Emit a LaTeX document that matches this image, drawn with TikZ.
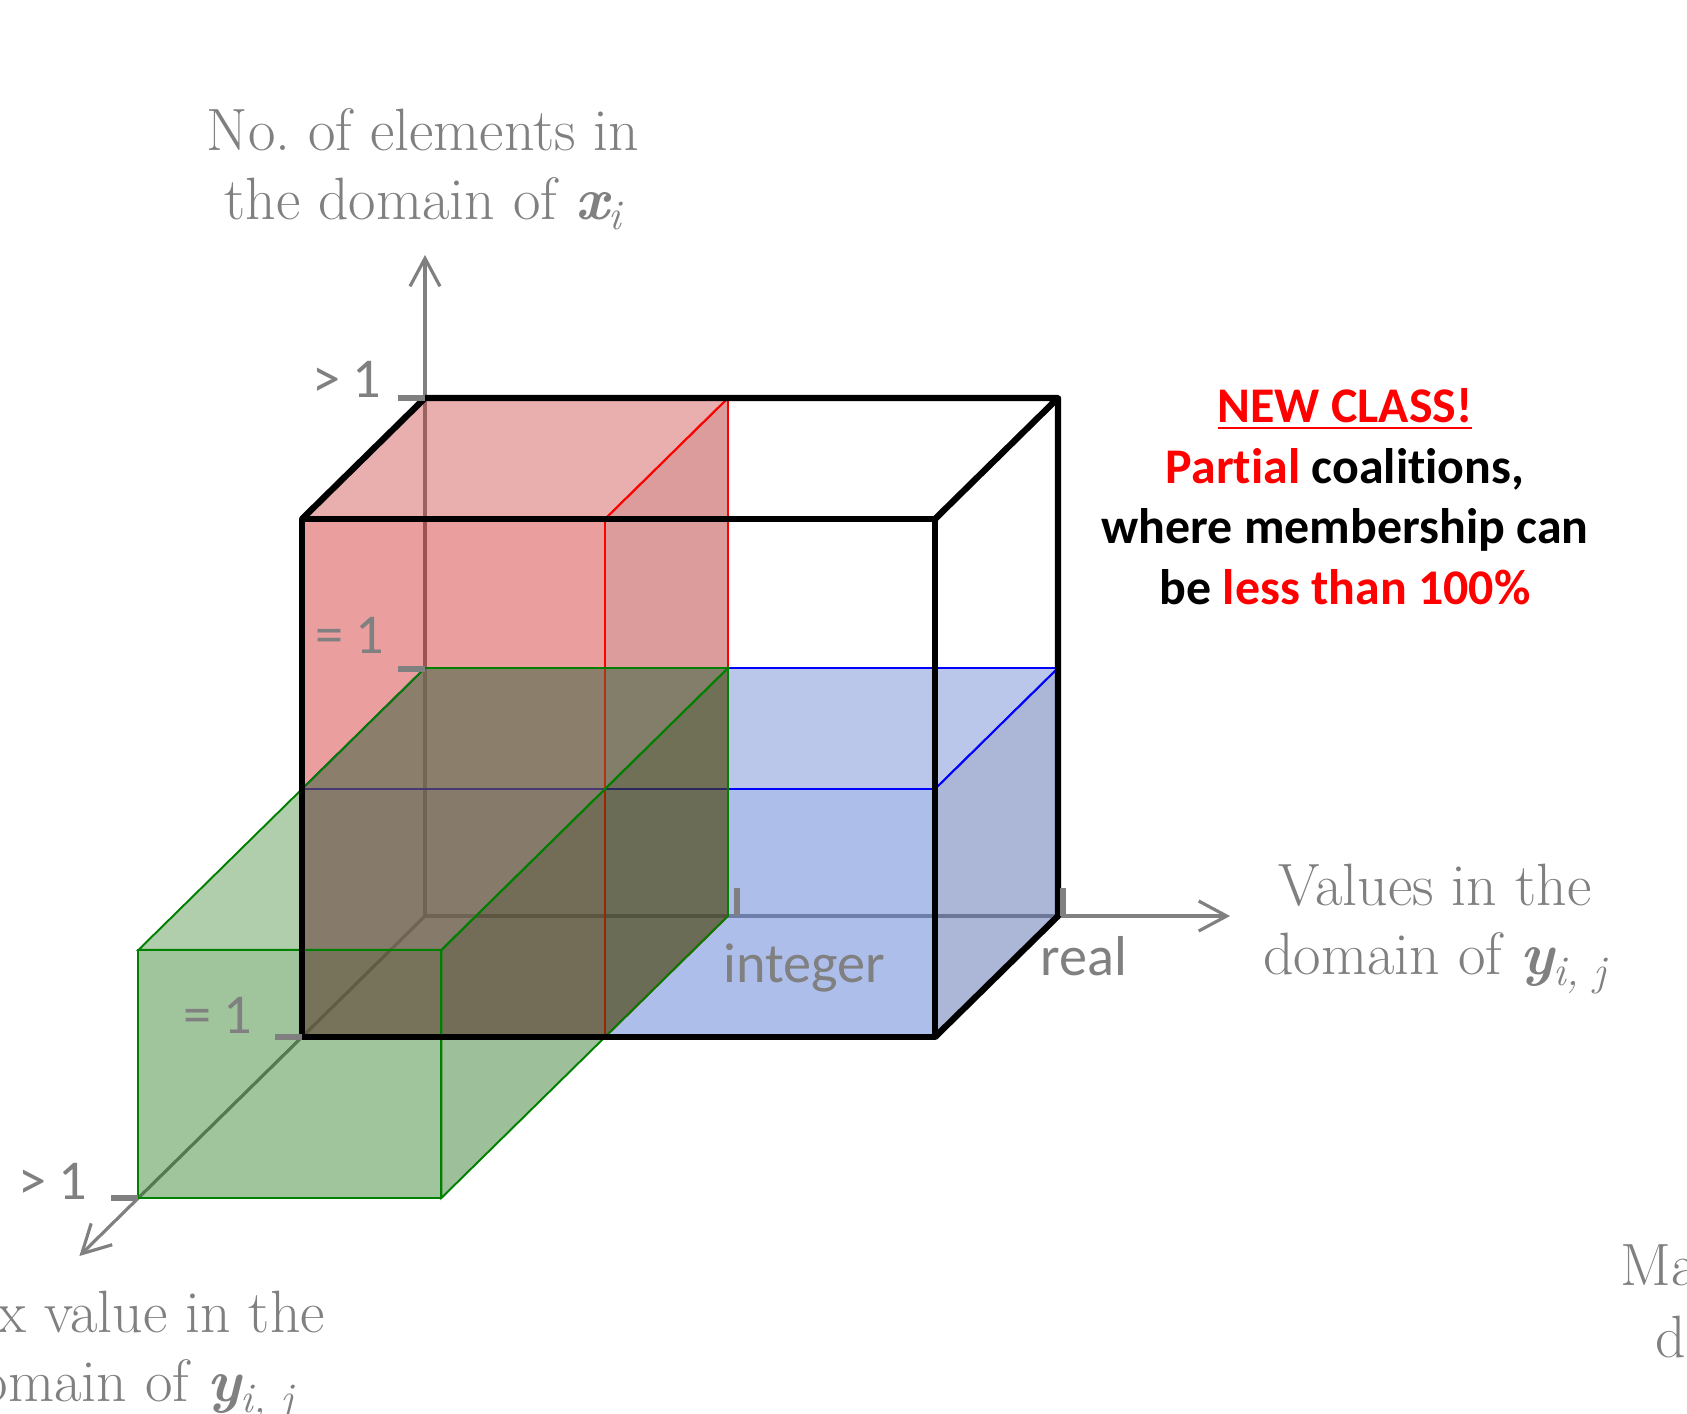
\documentclass[tikz,border=0pt]{standalone}
\usepackage{fontspec}
\newfontfamily\calibri{Carlito}[Ligatures=NoCommon]
\usepackage{xcolor}
\usepackage{tikz}
\usetikzlibrary{arrows.meta}
\frenchspacing
\definecolor{redfront}{RGB}{203,13,13}
\definecolor{redtop}{RGB}{200,53,53}
\definecolor{redside}{RGB}{168,8,8}
\definecolor{bluefront}{RGB}{93,125,215}
\definecolor{bluetop}{RGB}{117,143,215}
\definecolor{blueside}{RGB}{89,111,175}
\definecolor{greenfront}{RGB}{18,110,8}
\definecolor{greentop}{RGB}{58,130,48}
\definecolor{greenside}{RGB}{10,95,0}
\definecolor{greenedge}{RGB}{0,128,0}

\begin{document}
\begin{tikzpicture}[
  z={(-1.23cm,-1.21cm)},
  axis/.style={gray,line width=0.9pt,-{Straight Barb[length=2.8mm,width=3mm]}},
  tickmark/.style={gray,line width=1.5pt},
  axislabel/.style={gray,align=center,font=\fontsize{17}{19.6}\selectfont},
  valuelabel/.style={gray,inner sep=0pt,font=\calibri\fontsize{16}{19}\selectfont},
  bluecube/.style={line width=0.55pt,draw=blue,fill opacity=0.5},
  redcube/.style={line width=0.55pt,draw=red,fill opacity=0.4},
  greencube/.style={line width=0.55pt,draw=greenedge,fill opacity=0.4},
  frame/.style={line width=1.8pt,line join=round}
]
\useasboundingbox (-4.25,-4.97) rectangle (12.62,9.16);
\coordinate (O) at (0,0,0);
\coordinate (ytip) at (0,6.61,0);
\coordinate (xtip) at (8.05,0,0);
\coordinate (ztip) at (0,0,2.81);
\draw[axis] (O) -- (ytip);
\draw[axis] (O) -- (xtip);
\draw[axis] (O) -- (ztip);

\filldraw[bluecube,fill=bluefront] (0,0,1) rectangle (6.33,2.48,1);
\filldraw[bluecube,fill=bluetop] (0,2.48,0) -- (6.33,2.48,0) -- (6.33,2.48,1) -- (0,2.48,1) -- cycle;
\filldraw[bluecube,fill=blueside] (6.33,0,0) -- (6.33,2.48,0) -- (6.33,2.48,1) -- (6.33,0,1) -- cycle;
\filldraw[redcube,fill=redfront] (0,0,1) rectangle (3.03,5.18,1);
\filldraw[redcube,fill=redtop] (0,5.18,0) -- (3.03,5.18,0) -- (3.03,5.18,1) -- (0,5.18,1) -- cycle;
\filldraw[redcube,fill=redside] (3.03,0,0) -- (3.03,5.18,0) -- (3.03,5.18,1) -- (3.03,0,1) -- cycle;
\filldraw[greencube,fill=greenfront] (0,0,2.33) rectangle (3.03,2.48,2.33);
\filldraw[greencube,fill=greentop] (0,2.48,0) -- (3.03,2.48,0) -- (3.03,2.48,2.33) -- (0,2.48,2.33) -- cycle;
\filldraw[greencube,fill=greenside] (3.03,0,0) -- (3.03,2.48,0) -- (3.03,2.48,2.33) -- (3.03,0,2.33) -- cycle;

\draw[frame] (0,0,1) rectangle (6.33,5.18,1);
\draw[frame] (0,5.18,1) -- (0,5.18,0) -- (6.33,5.18,0) -- (6.33,5.18,1);
\draw[frame] (6.33,5.18,0) -- (6.33,0,0) -- (6.33,0,1);

\draw[tickmark] (0,5.18) -- ++(-0.27,0);
\draw[tickmark] (0,2.47) -- ++(-0.27,0);
\draw[tickmark] (3.12,0) -- ++(0,0.28);
\draw[tickmark] (6.38,0) -- ++(0,0.28);
\draw[tickmark] (0,0,1) -- ++(-0.27,0);
\draw[tickmark] (0,0,2.33) -- ++(-0.27,0);

\node[valuelabel,anchor=base east] (ygt) at (-0.43,5.19) {> 1};
\node[valuelabel,anchor=base east] (yeq) at (-0.40,2.63) {= 1};
\node[valuelabel,anchor=base east] (zeq) at (-1.72,-1.17) {= 1};
\node[valuelabel,anchor=base east] (zgt) at (-3.37,-2.83) {> 1};
\node[valuelabel,anchor=base west] (integer) at (2.98,-0.66) {integer};
\node[valuelabel,anchor=base west] (real) at (6.15,-0.59) {real};

\node[axislabel] (ylabel) at (-0.02,7.47) {No. of elements in\\the domain of {\bfseries\itshape x}\raisebox{-0.4ex}{\fontsize{12}{12}\selectfont\itshape i}};
\node[axislabel] (xlabel) at (10.10,-0.13) {Values in the\\domain of {\bfseries\itshape y}\raisebox{-0.4ex}{\fontsize{12}{12}\selectfont\itshape i, j}};
\node[axislabel] (zlabel) at (-3.03,-4.40) {Max value in the\\domain of {\bfseries\itshape y}\raisebox{-0.4ex}{\fontsize{12}{12}\selectfont\itshape i, j}};
\node[gray,inner sep=0pt,anchor=base west,font=\fontsize{17}{19.6}\selectfont] (cutone) at (11.95,-3.69) {Ma};
\node[gray,inner sep=0pt,anchor=base west,font=\fontsize{17}{19.6}\selectfont] (cuttwo) at (12.30,-4.41) {d};

\node[align=center,font=\calibri\bfseries\fontsize{14.2}{17.2}\selectfont] (newclass) at (9.20,4.195) {\textcolor{red}{\underline{NEW CLASS!}}\\\textcolor{red}{Partial} coalitions,\\where membership can\\be \textcolor{red}{less than 100\%}};
\end{tikzpicture}
\end{document}
